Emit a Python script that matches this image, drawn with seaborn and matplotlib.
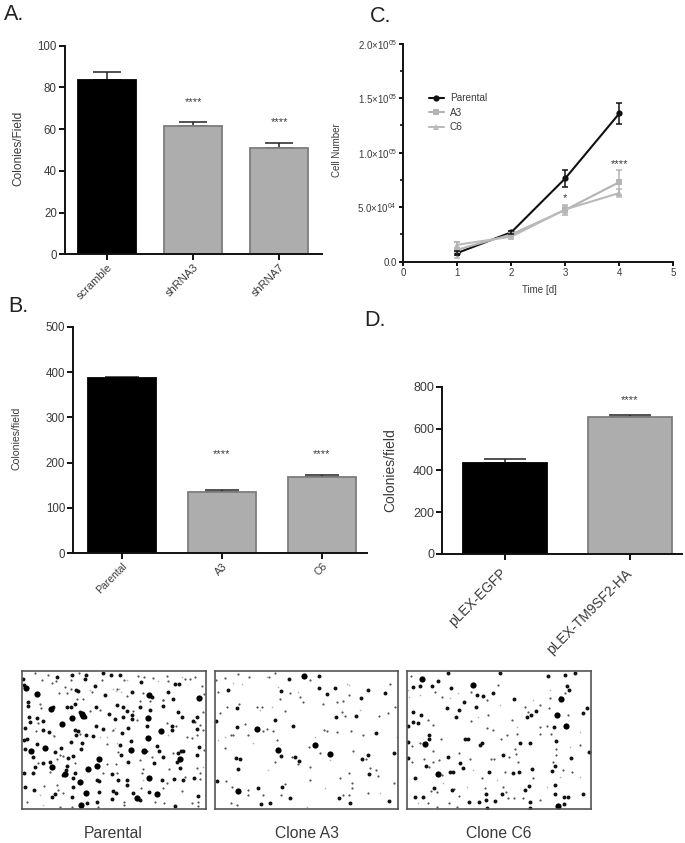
import pandas as pd
import seaborn as sns
import matplotlib
matplotlib.use("Agg")
import matplotlib.pyplot as plt
from matplotlib.transforms import ScaledTranslation

sns.set_style("ticks")
plt.rcParams['font.family'] = ['Liberation Sans', 'DejaVu Sans']
plt.rcParams['mathtext.default'] = 'regular'
plt.rcParams['mathtext.fontset'] = 'custom'
plt.rcParams['mathtext.rm'] = 'Liberation Sans'

W, H = 685, 843
TXT = '#3a3a3a'
GREY = '#adadad'
EDGE = '#7d7d7d'

# panel A
a_names = ["scramble", "shRNA3", "shRNA7"]
a_vals = [83.5, 61.5, 51.1]
a_errs = [3.7, 2.1, 2.3]
# panel B
b_names = ["Parental", "A3", "C6"]
b_vals = [387, 135.5, 169]
b_errs = [2.5, 3.5, 3.5]
# panel D
d_names = ["pLEX-EGFP", "pLEX-TM9SF2-HA"]
d_vals = [437, 657]
d_errs = [18, 11]
# panel C
days = [1, 2, 3, 4]
parental = [8000, 27000, 76500, 136000]
parental_err = [1500, 1500, 8000, 9500]
a3 = [11000, 25000, 47500, 73000]
a3_err = [7500, 2500, 4500, 11500]
c6 = [15500, 23000, 48000, 63000]
c6_err = [3000, 2000, 3000, 3500]
c_ticks = [0, 50000, 100000, 150000, 200000]
c_ticklabels = ["0.0", "5.0×10$^{04}$", "1.0×10$^{05}$", "1.5×10$^{05}$", "2.0×10$^{05}$"]

# micrographs, colony positions (crop pixels)
par_big = [(112,102),(186,193),(245,162),(393,270),(447,353),(540,297),(433,272),(296,298),(290,319),(157,320),
           (92,274),(243,435),(472,401),(444,175),(445,233),(483,213),(264,328),(135,265),(152,146),(598,113),
           (215,174),(78,85),(447,104),(195,342),(258,400),(240,367),(410,415),(250,168)]
par_mid = [(172,52),(215,44),(258,45),(255,57),(310,40),(333,46),(360,45),(422,65),(537,72),(525,72),(70,58),(72,75),
           (228,90),(235,92),(285,77),(315,105),(397,95),(455,110),(505,95),(520,118),(488,138),(85,125),(85,137),
           (160,142),(200,142),(212,142),(225,133),(288,140),(350,135),(370,140),(382,152),(396,165),(420,140),
           (450,150),(535,155),(545,172),(590,170),(578,182),(240,155),(255,172),(326,163),(345,178),(370,172),
           (395,178),(440,198),(515,198),(515,210),(590,208),(86,170),(90,185),(112,175),(128,183),(75,205),
           (128,210),(147,215),(225,210),(235,213),(228,226),(258,225),(278,228),(288,198),(310,206),(365,220),
           (385,205),(80,237),(72,240),(112,253),(212,245),(245,250),(243,268),(393,243),(360,255),(362,285),
           (472,258),(478,272),(75,267),(100,290),(165,275),(183,265),(218,288),(205,295),(543,272),(550,272),
           (535,280),(597,262),(592,285),(530,305),(490,290),(463,310),(385,305),(150,305),(105,320),(130,308),
           (200,318),(198,330),(190,345),(100,340),(72,340),(225,340),(335,342),(298,362),(290,360),(218,355),
           (220,380),(540,325),(355,360),(380,360),(487,360),(522,358),(548,360),(583,353),(75,380),(103,390),
           (165,403),(155,410),(215,410),(298,395),(340,393),(348,400),(335,418),(400,400),(420,420),(380,375),
           (448,395),(595,408),(260,430),(290,425),(525,438)]
par_small = [(105,40),(145,46),(168,62),(125,60),(155,68),(213,60),(238,38),(307,60),(372,60),(415,48),(432,52),(458,55),
             (500,48),(505,62),(555,57),(570,58),(585,50),(605,78),(195,82),(213,87),(275,95),(350,88),(430,100),
             (613,103),(488,120),(420,124),(450,122),(380,107),(200,100),(178,98),(120,132),(122,145),(230,118),
             (250,118),(300,150),(400,152),(488,120),(610,155),(585,185),(600,195),(270,153),(410,180),(500,190),
             (527,198),(610,210),(115,190),(108,213),(240,222),(340,210),(560,232),(575,235),(590,225),(162,228),
             (322,253),(355,275),(440,272),(180,285),(190,287),(518,280),(612,270),(455,290),(420,300),(320,312),
             (348,311),(170,297),(115,310),(225,308),(150,335),(310,340),(352,340),(508,328),(590,325),(600,338),
             (428,328),(425,340),(555,350),(600,357),(133,378),(170,375),(175,390),(190,400),(422,385),(500,370),
             (490,385),(545,392),(80,425),(293,440),(372,425),(372,435),(465,425),(493,430),(575,430),(595,425),
             (595,437),(215,440),(180,440)]
par_faint = [(340,88),(348,93),(358,88),(362,96),(345,205),(335,212),(322,230),(300,232),(350,250),(210,245),(128,435),
             (160,225),(270,90),(380,60),(475,62),(545,50),(505,225),(610,320),(430,360),(120,405)]

a3_big = [(282,49),(84,393),(361,283),(141,206),(316,254),(204,271)]
a3_mid = [(375,83),(327,85),(351,101),(213,94),(454,113),(474,89),(524,98),(54,90),(238,58),(327,48),(195,180),(250,198),
          (80,201),(377,171),(439,169),(17,182),(499,218),(255,291),(214,289),(78,294),(89,296),(85,326),(457,298),
          (268,303),(143,384),(386,414),(152,431),(179,429),(22,362),(552,278),(474,286),(477,341),(421,428),(538,423),
          (240,415),(215,381),(80,144)]
a3_small = [(85,43),(117,52),(45,53),(25,97),(17,60),(88,131),(142,141),(156,140),(224,152),(210,116),(340,133),(417,105),
            (506,169),(533,158),(404,168),(397,155),(380,125),(400,122),(105,193),(158,214),(170,208),(190,212),(68,226),
            (63,226),(113,225),(201,240),(341,210),(352,212),(381,217),(423,214),(458,226),(296,260),(330,280),(430,272),
            (468,298),(497,329),(480,323),(300,320),(264,313),(245,292),(195,305),(418,340),(390,355),(425,370),(425,385),
            (473,398),(417,405),(398,406),(113,391),(113,405),(158,405),(214,405),(63,428),(82,436),(300,360),(225,372),
            (65,382),(48,362),(30,158),(50,142),(240,100),(270,110),(278,125),(195,40),(178,50),(300,60),(555,142),(540,72),
            (505,348),(552,368),(45,265)]
a3_faint = [(68,70),(95,72),(170,50),(205,80),(265,95),(410,72),(416,76),(130,250),(45,230),(25,240),(345,385),(290,440),
            (360,300),(510,400),(560,230),(150,150),(185,140),(450,150),(315,230),(175,330)]

c6_big = [(65,56),(482,118),(473,438),(75,252),(472,165),(219,75),(115,341),(497,199)]
c6_mid = [(145,40),(300,40),(445,48),(495,46),(525,38),(38,81),(61,77),(97,77),(115,62),(152,85),(500,77),(507,91),(280,98),
          (231,105),(248,108),(342,117),(193,126),(229,140),(177,149),(141,145),(40,157),(63,166),(169,170),(40,185),(55,190),
          (24,197),(87,224),(88,237),(194,238),(204,238),(240,254),(245,250),(360,250),(389,250),(469,242),(461,202),(407,153),
          (394,166),(381,171),(548,160),(560,144),(145,291),(24,294),(78,317),(180,310),(188,323),(268,335),(339,339),(356,337),
          (397,327),(512,295),(466,318),(455,333),(308,284),(150,337),(160,337),(101,385),(155,389),(258,402),(306,402),(386,378),
          (375,390),(465,376),(465,401),(491,432),(505,411),(492,411),(257,420),(284,422),(238,426),(208,427),(260,445),(390,445),
          (390,425),(45,355),(70,411),(45,411),(566,276),(550,403),(24,245)]
c6_small = [(32,47),(105,95),(127,110),(212,95),(262,120),(295,75),(265,165),(212,183),(260,205),(278,210),(335,180),(375,140),
            (385,157),(420,135),(450,115),(480,110),(495,100),(447,145),(505,165),(420,200),(440,198),(420,222),(452,222),(350,222),
            (320,225),(302,237),(122,237),(98,196),(85,180),(100,272),(178,280),(210,297),(272,296),(283,296),(328,290),(347,282),
            (345,268),(355,305),(468,268),(467,285),(458,306),(490,330),(515,335),(316,335),(245,355),(255,383),(308,380),(318,395),
            (325,413),(343,413),(368,413),(420,420),(400,355),(178,407),(163,388),(92,393),(110,395),(148,430),(172,440),(112,442),
            (85,430),(540,255),(72,296),(35,305),(100,305),(116,300),(88,320),(125,345),(60,250),(35,258)]
c6_faint = [(25,90),(28,110),(60,105),(150,115),(175,100),(300,135),(235,170),(400,120),(350,200),(450,90),(540,215),(510,260),
            (540,350),(200,380),(290,360),(440,380),(130,370),(55,430),(480,350),(220,330)]


def axes_px(left, right, top, bottom):
    return fig.add_axes([left / W, 1 - bottom / H, (right - left) / W, (bottom - top) / H])


def style_axis(ax, lw=1.4, size=8):
    sns.despine(ax=ax)
    ax.spines['left'].set_linewidth(lw)
    ax.spines['bottom'].set_linewidth(lw)
    ax.spines['left'].set_color('#111111')
    ax.spines['bottom'].set_color('#111111')
    ax.tick_params(width=lw, length=4, labelsize=size, labelcolor=TXT, pad=1.5, color='#111111')
    ax.set_xlabel("")
    ax.set_ylabel("")


def bars(ax, names, vals, errs, width, xlim, ylim, yticks, size, rot_size, cap):
    df = pd.DataFrame({"name": names, "val": vals})
    cols = ['black'] + [GREY] * (len(names) - 1)
    sns.barplot(data=df, x="name", y="val", hue="name", palette=cols, legend=False, width=width, ax=ax, zorder=2,
                errorbar=None, linewidth=1.3, edgecolor=EDGE)
    ax.patches[0].set_edgecolor('black')
    # lower half of the error bar stays hidden behind the bar
    ax.errorbar(range(len(names)), vals, yerr=[[0] * len(errs), errs], fmt='none', ecolor='#222222', elinewidth=1.1,
                capsize=cap, capthick=1.1, zorder=1)
    ax.set_xlim(xlim)
    ax.set_ylim(ylim)
    ax.set_yticks(yticks)
    style_axis(ax, size=size)
    ax.set_xticks(range(len(names)))
    ax.set_xticklabels(names, rotation=45, ha='right', rotation_mode='anchor', fontsize=rot_size)


def field(ax, big, mid, small, faint, xlim, ylim):
    for pts, s, c in [(faint, 1.5, '#b5b5b5'), (small, 2.5, '#555555'), (mid, 8, '#111111'), (big, 20, 'black')]:
        sns.scatterplot(x=[p[0] for p in pts], y=[p[1] for p in pts], s=s, color=c, linewidth=0, ax=ax, legend=False)
    ax.set_xlim(xlim)
    ax.set_ylim(ylim)
    ax.set_xticks([])
    ax.set_yticks([])
    ax.set_xlabel("")
    ax.set_ylabel("")
    for sp in ax.spines.values():
        sp.set_linewidth(1.2)
        sp.set_color('#555555')


def label_px(x, y, s, **kw):
    fig.text(x / W, 1 - y / H, s, color=kw.pop('color', TXT), **kw)


fig = plt.figure(figsize=(W / 100, H / 100), dpi=100)

# A
ax_a = axes_px(64.5, 322, 45.7, 254.3)
bars(ax_a, a_names, a_vals, a_errs, 0.674, (-0.5, 2.5), (0, 100), [0, 20, 40, 60, 80, 100], 8.3, 8, 10)
ax_a.text(1, 73, "****", ha='center', va='center', fontsize=8, color=TXT)
ax_a.text(2, 63.2, "****", ha='center', va='center', fontsize=8, color=TXT)

# B
ax_b = axes_px(72.7, 367, 326.7, 553.3)
bars(ax_b, b_names, b_vals, b_errs, 0.68, (-0.493, 2.45), (0, 500), [0, 100, 200, 300, 400, 500], 8.3, 7.5, 12)
ax_b.text(1, 219, "****", ha='center', va='center', fontsize=8, color=TXT)
ax_b.text(2, 219, "****", ha='center', va='center', fontsize=8, color=TXT)

# D
ax_d = axes_px(441.7, 682, 387, 553.7)
bars(ax_d, d_names, d_vals, d_errs, 0.67, (-0.503, 1.415), (0, 800), [0, 200, 400, 600, 800], 9, 9.8, 15)
ax_d.tick_params(axis='x', pad=5)
for lab in ax_d.get_xticklabels():
    lab.set_transform(lab.get_transform() + ScaledTranslation(-4 / 72, 0, fig.dpi_scale_trans))
ax_d.text(1, 735, "****", ha='center', va='center', fontsize=8, color=TXT)

# C
ax_c = axes_px(403.3, 673.3, 43.7, 261.7)
long_df = pd.DataFrame({
    "day": days * 3,
    "cells": parental + a3 + c6,
    "line": ["Parental"] * 4 + ["A3"] * 4 + ["C6"] * 4,
})
pal = {"Parental": "#111111", "A3": "#b3b3b3", "C6": "#bababa"}
sns.lineplot(data=long_df, x="day", y="cells", hue="line", style="line", palette=pal, dashes=False,
             markers={"Parental": "o", "A3": "s", "C6": "^"}, errorbar=None, linewidth=1.5, markersize=4.5,
             markeredgewidth=0, ax=ax_c)
for vals, errs, name in [(c6, c6_err, "C6"), (a3, a3_err, "A3"), (parental, parental_err, "Parental")]:
    ax_c.errorbar(days, vals, yerr=errs, fmt='none', ecolor=pal[name], elinewidth=1.1, capsize=2.4, capthick=1.1)
ax_c.set_xlim(0, 5)
ax_c.set_ylim(0, 200000)
ax_c.set_xticks([0, 1, 2, 3, 4, 5])
ax_c.set_yticks(c_ticks)
ax_c.set_yticklabels(c_ticklabels)
ax_c.set_yticks([25000, 75000, 125000, 175000], minor=True)
style_axis(ax_c, size=7)
ax_c.tick_params(which='minor', width=1.2, length=2.5, left=True, color='#111111')
ax_c.tick_params(length=3)
leg = ax_c.legend(loc='upper left', bbox_to_anchor=(0.095, 0.772), frameon=False, fontsize=7.2, handlelength=1.5,
                  handletextpad=0.6, labelspacing=0.45, borderpad=0, borderaxespad=0)
for t in leg.get_texts():
    t.set_color(TXT)
ax_c.text(3, 58000, "*", ha='center', va='center', fontsize=8, color=TXT)
ax_c.text(4, 89500, "****", ha='center', va='center', fontsize=8, color=TXT)

# micrographs
ax1 = axes_px(22.3, 206, 671, 809)
field(ax1, par_big, par_mid, par_small, par_faint, (67, 618), (447, 33))
ax2 = axes_px(214.7, 398.3, 671, 809)
field(ax2, a3_big, a3_mid, a3_small, a3_faint, (14, 565), (447, 33))
ax3 = axes_px(406.7, 590.7, 671, 809)
field(ax3, c6_big, c6_mid, c6_small, c6_faint, (20, 572), (447, 33))

# free text
label_px(18, 148, "Colonies/Field", rotation=90, ha='center', va='center', fontsize=8.6)
label_px(16.5, 438, "Colonies/field", rotation=90, ha='center', va='center', fontsize=7.6)
label_px(390, 470, "Colonies/field", rotation=90, ha='center', va='center', fontsize=10)
label_px(337.5, 150, "Cell Number", rotation=90, ha='center', va='center', fontsize=7)
label_px(539, 290, "Time [d]", ha='center', va='center', fontsize=7)
label_px(113, 833, "Parental", ha='center', va='center', fontsize=11.3)
label_px(307, 834, "Clone A3", ha='center', va='center', fontsize=11.3)
label_px(499, 834, "Clone C6", ha='center', va='center', fontsize=11.3)
label_px(4, 15, "A.", ha='left', va='center', fontsize=15.5, color='#222222')
label_px(8, 306, "B.", ha='left', va='center', fontsize=15.5, color='#222222')
label_px(370, 17, "C.", ha='left', va='center', fontsize=15.5, color='#222222')
label_px(364, 321, "D.", ha='left', va='center', fontsize=15.5, color='#222222')

fig.savefig("out.png", dpi=100)
